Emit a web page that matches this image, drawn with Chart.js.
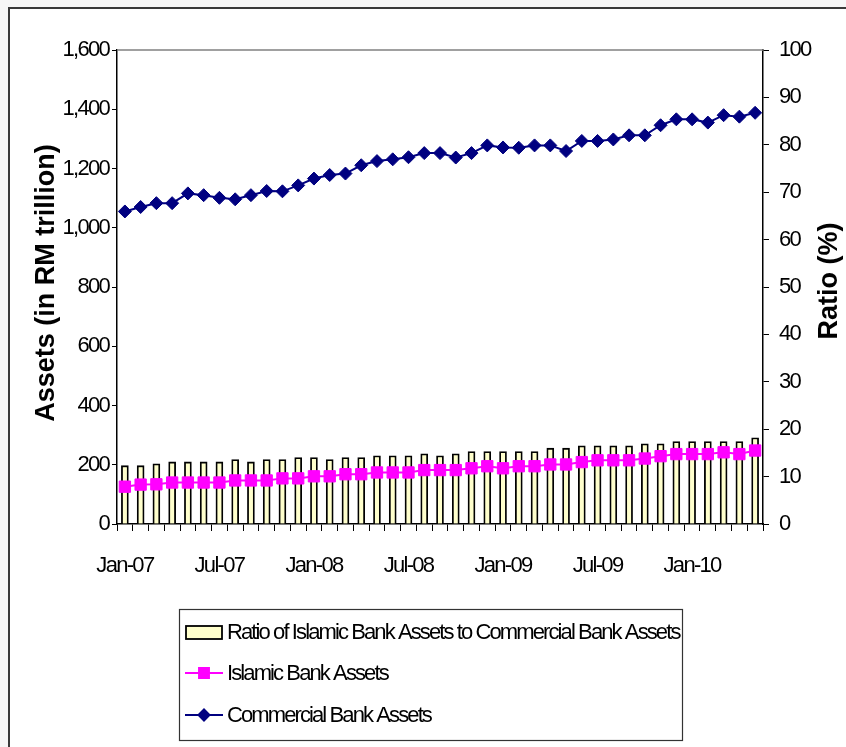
<!DOCTYPE html>
<html>
<head>
<meta charset="utf-8">
<script src="https://cdn.jsdelivr.net/npm/chart.js@4.4.1/dist/chart.umd.min.js"></script>
<style>
  html, body { margin:0; padding:0; background:#f7f7f7; overflow:hidden; width:846px; height:747px; }
  #frame { position:absolute; left:8px; top:7px; width:900px; height:800px; background:#fff; border:2px solid #3a3a3a; box-sizing:border-box; }
  #c { position:absolute; left:0; top:0; }
</style>
</head>
<body>
<div id="frame"></div>
<canvas id="c" width="846" height="747"></canvas>
<script>
const categories = [
  'Jan-07','Feb-07','Mar-07','Apr-07','May-07','Jun-07','Jul-07','Aug-07','Sep-07','Oct-07','Nov-07','Dec-07',
  'Jan-08','Feb-08','Mar-08','Apr-08','May-08','Jun-08','Jul-08','Aug-08','Sep-08','Oct-08','Nov-08','Dec-08',
  'Jan-09','Feb-09','Mar-09','Apr-09','May-09','Jun-09','Jul-09','Aug-09','Sep-09','Oct-09','Nov-09','Dec-09',
  'Jan-10','Feb-10','Mar-10','Apr-10','May-10'
];
const ratioPct = [12.3,12.3,12.7,13.1,13.1,13.1,13.1,13.6,13.1,13.6,13.6,14.0,14.0,13.6,14.0,14.0,14.4,14.4,14.4,14.8,14.4,
                  14.8,15.3,15.3,15.3,15.3,15.3,16.0,16.0,16.5,16.5,16.5,16.5,16.9,16.9,17.4,17.4,17.4,17.4,17.4,18.2];
const islamicAssets = [126,133,134,140,140,140,140,147,147,147,154,154,161,161,168,168,174,174,174,182,182,
                       182,188,195,188,195,195,201,201,209,215,215,215,221,229,236,236,236,242,236,248];
const commercialAssets = [1055,1070,1083,1083,1116,1110,1101,1096,1110,1124,1123,1143,1166,1178,1183,1211,1225,1231,1238,1252,1252,
                          1237,1252,1278,1271,1270,1278,1278,1259,1293,1293,1298,1312,1312,1346,1366,1366,1355,1380,1375,1388];
const leftTicks = { min: 0, max: 1600, step: 200 };
const rightTicks = { min: 0, max: 100, step: 10 };
const labelEvery = 6;
const seriesNames = ['Ratio of Islamic Bank Assets to Commercial Bank Assets','Islamic Bank Assets','Commercial Bank Assets'];
const axisTitles = ['Assets (in RM trillion)','Ratio (%)'];

const SANS = '"Liberation Sans",Arial,sans-serif';

const decorPlugin = {
  id: 'decor',
  beforeDraw(chart) {
    chart.ctx.letterSpacing = '-1.7px';
  },
  beforeDatasetsDraw(chart) {
    const {ctx, chartArea:a} = chart;
    ctx.save();
    ctx.strokeStyle = '#808080';
    ctx.lineWidth = 1.5;
    ctx.beginPath();
    ctx.moveTo(a.left, a.top); ctx.lineTo(a.right, a.top);
    ctx.stroke();
    ctx.restore();
  },
  afterDraw(chart) {
    const ctx = chart.ctx;
    const a = chart.chartArea;
    const midY = (a.top + a.bottom) / 2;
    ctx.save();
    ctx.letterSpacing = '0px';
    ctx.font = 'bold 27px ' + SANS;
    ctx.fillStyle = '#000';
    ctx.textAlign = 'center';
    ctx.textBaseline = 'middle';
    // left axis title
    ctx.save();
    ctx.translate(47, midY - 4);
    ctx.rotate(-Math.PI/2);
    ctx.fillText(axisTitles[0], 0, 0);
    ctx.restore();
    // right axis title
    ctx.save();
    ctx.translate(830, midY - 6);
    ctx.rotate(-Math.PI/2);
    ctx.fillText(axisTitles[1], 0, 0);
    ctx.restore();
    ctx.restore();

    // legend box
    ctx.save();
    ctx.letterSpacing = '0px';
    ctx.strokeStyle = '#333';
    ctx.lineWidth = 1.2;
    ctx.fillStyle = '#fff';
    ctx.fillRect(179, 609, 503, 131);
    ctx.strokeRect(179.5, 609.5, 503, 131);
    const ds = chart.data.datasets;
    const rows = [632, 673, 715];
    // bar symbol
    ctx.fillStyle = ds[0].backgroundColor;
    ctx.fillRect(186, rows[0]-6, 36, 13);
    ctx.strokeStyle = '#000'; ctx.lineWidth = 1.8;
    ctx.strokeRect(186, rows[0]-6, 36, 13);
    // line symbols
    [1,2].forEach(k => {
      const d = ds[k];
      ctx.strokeStyle = d.borderColor; ctx.lineWidth = 2;
      ctx.beginPath(); ctx.moveTo(185, rows[k]); ctx.lineTo(223, rows[k]); ctx.stroke();
      ctx.fillStyle = d.pointBackgroundColor;
      Chart.helpers.drawPoint(ctx, {pointStyle: d.pointStyle, radius: k===1 ? 7 : 5.5, borderWidth: 1}, 204, rows[k]);
      ctx.fill();
    });
    ctx.font = '22px ' + SANS;
    ctx.letterSpacing = '-1.9px';
    ctx.fillStyle = '#000';
    ctx.textAlign = 'left';
    ctx.textBaseline = 'middle';
    seriesNames.forEach((t, k) => ctx.fillText(t, 227, rows[k]+1));
    ctx.restore();
  }
};

new Chart(document.getElementById('c'), {
  data: {
    labels: categories,
    datasets: [
      { type:'bar', label: seriesNames[0], data: ratioPct, yAxisID:'y1', order: 3,
        backgroundColor:'#FFFFCC', borderColor:'#000', borderWidth:1.8, barThickness:7 },
      { type:'line', label: seriesNames[1], data: islamicAssets, yAxisID:'y', order: 1,
        borderColor:'#FF00FF', borderWidth:2, pointStyle:'rect', pointRadius:8,
        pointBackgroundColor:'#FF00FF', pointBorderColor:'#FF00FF', pointBorderWidth:1, tension:0 },
      { type:'line', label: seriesNames[2], data: commercialAssets, yAxisID:'y', order: 0,
        borderColor:'#000080', borderWidth:2, pointStyle:'rectRot', pointRadius:6.5,
        pointBackgroundColor:'#000080', pointBorderColor:'#000080', pointBorderWidth:1, tension:0 }
    ]
  },
  options: {
    responsive:false, animation:false,
    layout:{ padding:{ top:50, left:0, right:0, bottom:0 } },
    plugins:{ legend:{display:false}, tooltip:{enabled:false} },
    scales:{
      x:{
        offset:true,
        grid:{ display:true, drawOnChartArea:false, drawTicks:true, tickLength:7, color:'#000', offset:true, lineWidth:1 },
        border:{ display:true, color:'#000', width:1.5 },
        ticks:{ autoSkip:false, maxRotation:0, minRotation:0, padding:22, color:'#000',
                font:{ family:SANS, size:22 },
                callback:(v,i) => i % labelEvery === 0 ? categories[i] : '' },
        afterFit(s){ s.height = 223; }
      },
      y:{
        position:'left', min:leftTicks.min, max:leftTicks.max,
        ticks:{ stepSize:leftTicks.step, padding:3, color:'#000', font:{ family:SANS, size:22 },
                callback:v => v.toLocaleString('en-US') },
        grid:{ drawOnChartArea:false, tickLength:5, color:'#000' },
        border:{ color:'#000', width:1.5 },
        afterFit(s){ s.width = 117; }
      },
      y1:{
        position:'right', min:rightTicks.min, max:rightTicks.max,
        ticks:{ stepSize:rightTicks.step, padding:10, color:'#000', font:{ family:SANS, size:22 } },
        grid:{ drawOnChartArea:false, tickLength:6, color:'#000' },
        border:{ color:'#000', width:1.5 },
        afterFit(s){ s.width = 83; }
      }
    }
  },
  plugins:[decorPlugin]
});
</script>
</body>
</html>
